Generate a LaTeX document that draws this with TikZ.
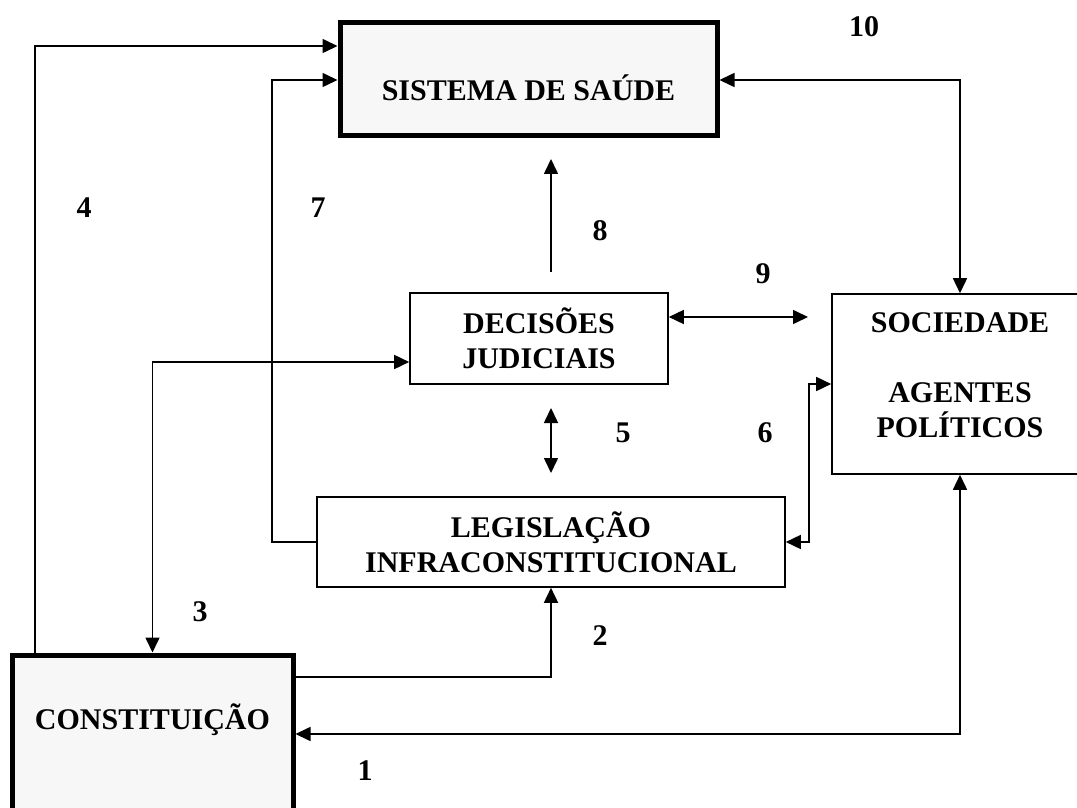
\documentclass[tikz,border=0pt]{standalone}
\usepackage{fontspec}
\setmainfont{Liberation Serif}
\usetikzlibrary{arrows.meta}
\definecolor{boxfill}{RGB}{247,247,247}
\begin{document}
\begin{tikzpicture}[x=0.5pt,y=-0.5pt,
  font=\fontsize{15}{17.5}\selectfont\bfseries,
  box/.style={draw, line width=0.8pt, inner sep=0pt, align=center},
  thickbox/.style={draw, line width=2.5pt, fill=boxfill, inner sep=0pt, align=center},
  conn/.style={line width=0.8pt, arrows={-Triangle[length=7.5pt,width=7pt]}},
  dconn/.style={line width=0.8pt, arrows={Triangle[length=7.5pt,width=7pt]-Triangle[length=7.5pt,width=7pt]}},
  lbl/.style={inner sep=0pt, align=center}]
\useasboundingbox (0,0) rectangle (1077,808);
\clip (0,0) rectangle (1077,808);
% boxes
\node[thickbox, minimum width=188.5pt, minimum height=56.5pt] (sis) at (528.5,79.5) {};
\node[lbl] (sistxt) at (528.5,88) {SISTEMA DE SAÚDE};
\node[box, minimum width=129pt, minimum height=45.5pt] (dec) at (539,338.5) {DECISÕES\\JUDICIAIS};
\node[box, minimum width=234pt, minimum height=45pt] (leg) at (551,542) {LEGISLAÇÃO\\INFRACONSTITUCIONAL};
\node[box, minimum width=128pt, minimum height=90pt] (soc) at (960,384) {};
\node[lbl] (soctxt) at (960,375) {SOCIEDADE\\[17.5pt]AGENTES\\POLÍTICOS};
\node[thickbox, minimum width=140.5pt, minimum height=90pt] (con) at (152.5,745) {};
\node[lbl] (context) at (152.5,720) {CONSTITUIÇÃO};
% free ends
\coordinate (a8s) at (551,272);
\coordinate (a8e) at (551,159);
\coordinate (a9e) at (808,317);
\coordinate (a5s) at (551,408);
\coordinate (a5e) at (551,473);
% connectors
\draw[dconn] (con.east |- 0,734) -- (soc.south |- 0,734) -- (soc.south);
\draw[conn] (con.east |- 0,677) -- (leg.south |- 0,677) -- (leg.south);
\draw[dconn] (dec.west |- 0,362) -| (con.north);
\draw[conn] (con.north -| 35,0) |- (sis.west |- 0,46);
\draw[conn] (leg.west) -- (272,542) |- (sis.west |- 0,80);
\draw[dconn] (sis.east |- 0,80) -| (soc.north);
\draw[conn] (a8s) -- (a8e);
\draw[dconn] (dec.east |- 0,317) -- (a9e);
\draw[dconn] (a5s) -- (a5e);
\draw[dconn] (soc.west) -| (809,542) -- (leg.east);
% labels
\node[lbl] (l10) at (864,27) {10};
\node[lbl] (l4) at (84,208) {4};
\node[lbl] (l7) at (318,208) {7};
\node[lbl] (l8) at (600,231) {8};
\node[lbl] (l9) at (763,274) {9};
\node[lbl] (l5) at (623,433) {5};
\node[lbl] (l6) at (765,433) {6};
\node[lbl] (l3) at (200,612) {3};
\node[lbl] (l2) at (600,636) {2};
\node[lbl] (l1) at (365,771) {1};
\end{tikzpicture}
\end{document}
